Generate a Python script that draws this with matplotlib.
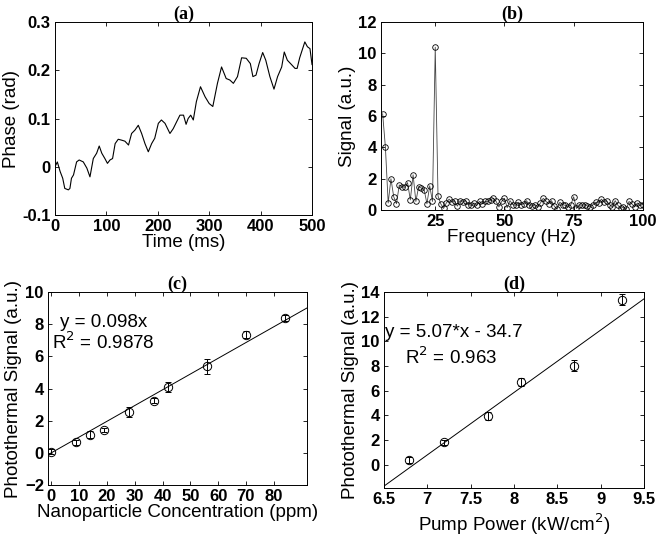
import matplotlib
matplotlib.use("Agg")
import matplotlib.pyplot as plt
import numpy as np

# ---- Panel (a): phase vs time ----
time_ms = [0, 4.5, 10, 15, 19, 26, 29, 32, 36, 42, 47, 55, 62, 68, 74.5, 81, 86, 91, 97,
           102, 107, 112, 117, 123, 130, 136, 143, 149, 155.5, 162, 168.5, 175, 181.5,
           188, 194, 201, 207, 214, 223.6, 230, 236.5, 243, 250, 255, 259, 264, 269, 275,
           283, 292, 300, 307, 316, 324, 333, 340, 347, 355, 363, 372, 380, 385, 391,
           397, 404, 410, 418, 426, 433, 441, 446, 452, 460, 467, 471, 476, 486, 491,
           496, 500]
phase_rad = [0.0, 0.010, -0.010, -0.024, -0.045, -0.048, -0.045, -0.024, -0.017, 0.010,
             0.014, 0.010, -0.003, -0.021, 0.017, 0.028, 0.043, 0.028, 0.017,
             0.007, 0.014, 0.017, 0.048, 0.057, 0.055, 0.053, 0.045, 0.069, 0.076,
             0.086, 0.069, 0.048, 0.031, 0.048, 0.059, 0.090, 0.097, 0.090, 0.069,
             0.079, 0.093, 0.107, 0.107, 0.088, 0.100, 0.107, 0.097, 0.135,
             0.166, 0.145, 0.131, 0.125, 0.173, 0.207, 0.183, 0.180, 0.173, 0.187,
             0.226, 0.225, 0.214, 0.187, 0.190, 0.214, 0.237, 0.221, 0.187, 0.161,
             0.187, 0.207, 0.238, 0.221, 0.212, 0.204, 0.204, 0.226, 0.259, 0.249,
             0.245, 0.212]

# ---- Panel (b): spectrum ----
freq_hz = list(range(6, 101))
signal_b = [6.15, 4.0, 0.45, 2.0, 0.85, 0.4, 1.6, 1.5, 1.45, 1.75, 0.65, 2.25, 0.55,
            1.5, 1.4, 1.3, 0.4, 1.55, 0.55, 10.4, 0.9, 0.4, 0.1,
            0.45, 0.7, 0.5, 0.55, 0.25, 0.6, 0.5, 0.6, 0.35, 0.3, 0.45, 0.3, 0.55,
            0.4, 0.55, 0.55, 0.65, 0.75, 0.55, 0.2, 0.55, 0.75, 0.15, 0.6, 0.35,
            0.3, 0.5, 0.35, 0.4, 0.6, 0.3, 0.25, 0.35, 0.2, 0.45, 0.75, 0.55, 0.4,
            0.6, 0.25, 0.05, 0.5, 0.35, 0.3, 0.2, 0.35, 0.85, 0.1, 0.35, 0.3, 0.35,
            0.25, 0.2, 0.35, 0.5, 0.45, 0.7, 0.5, 0.55, 0.35, 0.2, 0.6, 0.3, 0.1,
            0.2, 0.05, 0.55, 0.4, 0.2, 0.45, 0.3, 0.35]

# ---- Panel (c): concentration ----
conc_ppm = [0, 9, 14, 19, 28, 37, 42, 56, 70, 84]
signal_c = [0.06, 0.65, 1.13, 1.4, 2.55, 3.25, 4.1, 5.38, 7.35, 8.4]
err_c = [0.15, 0.15, 0.2, 0.12, 0.3, 0.15, 0.3, 0.45, 0.2, 0.2]
slope_c = 0.098

# ---- Panel (d): pump power ----
power = [6.79, 7.19, 7.70, 8.08, 8.69, 9.24]
signal_d = [0.35, 1.82, 3.94, 6.71, 8.02, 13.37]
err_d = [0.25, 0.2, 0.3, 0.3, 0.45, 0.45]
slope_d, icpt_d = 5.07, -34.7

plt.rcParams['font.family'] = ['Liberation Sans', 'DejaVu Sans']
fig = plt.figure(figsize=(6.58, 5.40), dpi=100)

tick_fs = 12
lab_fs = 13.5
title_kw = dict(fontfamily='Liberation Serif', fontsize=13, fontweight='bold', pad=2)


def style(ax):
    ax.tick_params(direction='in', top=True, right=True, length=3, width=0.6,
                   labelsize=tick_fs, pad=3)
    for lab in ax.get_xticklabels() + ax.get_yticklabels():
        lab.set_fontweight('bold')
    for s in ax.spines.values():
        s.set_linewidth(0.7)


# (a)
ax = fig.add_axes([0.0836, 0.602, 0.3906, 0.357])
ax.plot(time_ms, phase_rad, color='black', lw=0.8)
ax.set_xlim(0, 500)
ax.set_ylim(-0.1, 0.3)
ax.set_xticks([0, 100, 200, 300, 400, 500])
ax.set_yticks([-0.1, 0, 0.1, 0.2, 0.3])
ax.set_yticklabels(['-0.1', '0', '0.1', '0.2', '0.3'])
ax.set_xlabel('Time (ms)', fontsize=lab_fs, labelpad=0)
ax.set_ylabel('Phase (rad)', fontsize=lab_fs, labelpad=2)
ax.set_title('(a)', **title_kw)
style(ax)

# (b)
ax = fig.add_axes([0.579, 0.611, 0.398, 0.348])
ax.plot(freq_hz, signal_b, color='#444444', lw=0.6, ls='-', marker='o', ms=4,
        mfc='none', mec='black', mew=0.6)
ax.set_xlim(5.4, 100)
ax.set_ylim(0, 12)
ax.set_xticks([25, 50, 75, 100])
ax.set_yticks([0, 2, 4, 6, 8, 10, 12])
ax.set_xlabel('Frequency (Hz)', fontsize=lab_fs, labelpad=0)
ax.set_ylabel('Signal (a.u.)', fontsize=lab_fs, labelpad=2)
ax.set_title('(b)', **title_kw)
style(ax)

# (c)
ax = fig.add_axes([0.073, 0.102, 0.3936, 0.357])
xl = (-1.2, 92)
xx = np.array(xl)
ax.plot(xx, slope_c * xx, color='black', lw=0.7)
ax.errorbar(conc_ppm, signal_c, yerr=err_c, fmt='o', ms=6, mfc='none', mec='black',
            mew=0.7, ecolor='black', elinewidth=0.7, capsize=2, capthick=0.7)
ax.set_xlim(*xl)
ax.set_ylim(-2, 10)
ax.set_xticks([0, 10, 20, 30, 40, 50, 60, 70, 80])
ax.set_yticks([-2, 0, 2, 4, 6, 8, 10])
ax.set_xlabel('Nanoparticle Concentration (ppm)', fontsize=lab_fs, labelpad=0)
ax.set_ylabel('Photothermal Signal (a.u.)', fontsize=lab_fs, labelpad=2)
ax.set_title('(c)', **title_kw)
ax.text(18.7, 8.1, 'y = 0.098x', fontsize=13.5, ha='center', va='center')
ax.text(18.7, 6.85, 'R$^2$ = 0.9878', fontsize=13.5, ha='center', va='center')
style(ax)

# (d)
ax = fig.add_axes([0.5836, 0.0963, 0.3954, 0.3627])
xl = (6.5, 9.5)
xx = np.array(xl)
ax.plot(xx, slope_d * xx + icpt_d, color='black', lw=0.7)
ax.errorbar(power, signal_d, yerr=err_d, fmt='o', ms=6, mfc='none', mec='black',
            mew=0.7, ecolor='black', elinewidth=0.7, capsize=2, capthick=0.7)
ax.set_xlim(*xl)
ax.set_ylim(-1.9, 14)
ax.set_xticks([6.5, 7, 7.5, 8, 8.5, 9, 9.5])
ax.set_xticklabels(['6.5', '7', '7.5', '8', '8.5', '9', '9.5'])
ax.set_yticks([0, 2, 4, 6, 8, 10, 12, 14])
ax.set_xlabel('Pump Power (kW/cm$^2$)', fontsize=lab_fs, labelpad=3)
ax.set_ylabel('Photothermal Signal (a.u.)', fontsize=lab_fs, labelpad=2)
ax.set_title('(d)', **title_kw)
ax.text(7.31, 10.7, 'y = 5.07*x - 34.7', fontsize=13.5, ha='center', va='center')
ax.text(7.27, 8.7, 'R$^2$ = 0.963', fontsize=13.5, ha='center', va='center')
style(ax)

fig.savefig('out.png', dpi=100)
